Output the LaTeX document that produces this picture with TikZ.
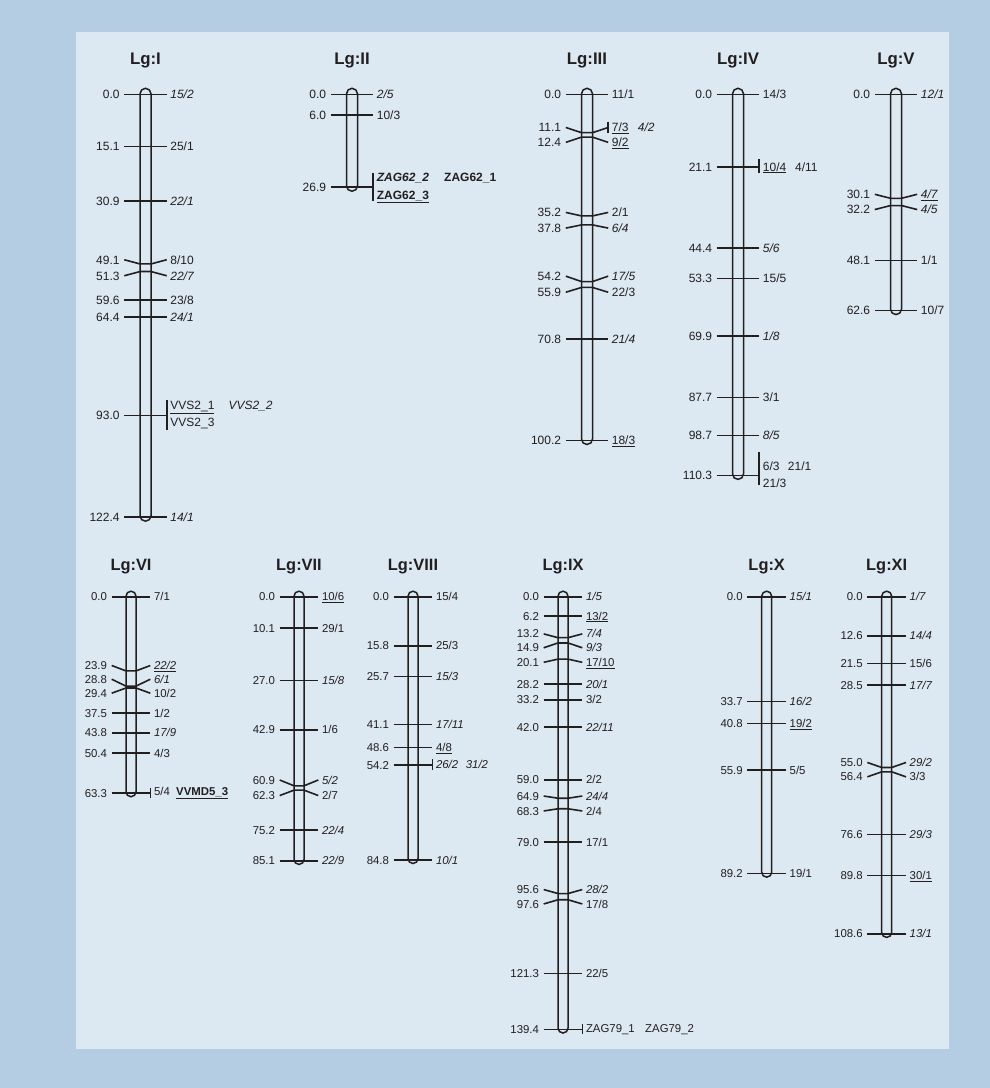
\documentclass[tikz,border=0pt]{standalone}
\usepackage{fontspec}
\setmainfont{Liberation Sans}
\usetikzlibrary{positioning}

\definecolor{outerblue}{RGB}{180,205,227}
\definecolor{panelblue}{RGB}{220,232,242}
\definecolor{ink}{RGB}{35,31,32}

% row settings: scale (pt per cM), bar half width, tick half length, ...
\newcommand\toprow{\def\lgsc{3.455}\def\bhw{5.5}\def\tkl{21.2}\def\lgys{4.3}%
  \def\lgty{-29.8}\def\capt{6}\def\capb{4}%
  \def\lgfs{\fontsize{12}{14}\selectfont}\def\lgtfs{\fontsize{16.8}{19}\selectfont}}
\newcommand\botrow{\def\lgsc{3.105}\def\bhw{5}\def\tkl{19.3}\def\lgys{4.05}%
  \def\lgty{-26.7}\def\capt{5.5}\def\capb{3.5}%
  \def\lgfs{\fontsize{11.4}{13}\selectfont}\def\lgtfs{\fontsize{16.4}{19}\selectfont}}

% bar with title
\newcommand\lgchrom[3]{%
  \node[lgtitle] (#1) at (0,\lgty) {#2};
  \draw[lgbar, rounded corners=\bhw pt] (-\bhw,-\capt) rectangle (\bhw,{#3*\lgsc+\capb});
}
% markers: position / label shift / name
\newcommand\lgmarks[2]{%
  \foreach \lgp/\lgd/\lgm [count=\lgk] in {#2}{%
    \pgfmathsetmacro\yt{\lgp*\lgsc}%
    \pgfmathsetmacro\yl{\yt+\lgd}%
    \draw[tick] (-\tkl,\yl) -- (-\bhw,\yt) -- (\bhw,\yt) -- (\tkl,\yl);
    \node[cmlab] (#1-cm\lgk) at (-\tkl-4.5,\yl) {\lgp};
    \node[mklab] (#1-mk\lgk) at (\tkl+3.5,\yl) {\lgm};
  }%
}

\begin{document}
\begin{tikzpicture}[
  x=1pt, y=-1pt,
  lgbar/.style={draw=ink, line width=1.5pt},
  tick/.style={draw=ink, line width=1.6pt},
  cmlab/.style={anchor=base east, inner sep=0pt, text=ink, font=\lgfs, yshift=-\lgys pt},
  mklab/.style={anchor=base west, inner sep=0pt, text=ink, font=\lgfs, yshift=-\lgys pt},
  lgtitle/.style={anchor=base, inner sep=0pt, text=ink, font=\lgtfs\bfseries}
]
\useasboundingbox (0,0) rectangle (990,1088);
\fill[outerblue] (0,0) rectangle (990,1088);
\fill[panelblue] (76,32) rectangle (949,1049);

%%% top row
\begin{scope}[shift={(145.5,94.3)}]
  \toprow
  \lgchrom{lgI}{Lg:I}{122.4}
  \lgmarks{I}{0.0/0/{\textit{15/2}}, 15.1/0/{25/1}, 30.9/0/{\textit{22/1}},
    49.1/-4.2/{8/10}, 51.3/4.2/{\textit{22/7}}, 59.6/0/{23/8},
    64.4/0/{\textit{24/1}}, 122.4/0/{\textit{14/1}}}
  \draw[tick] (-\tkl,321.3) -- (\tkl,321.3);
  \draw[tick] (\tkl,305.3) -- (\tkl,335.3);
  \node[cmlab] (I-cm93) at (-\tkl-4.5,321.3) {93.0};
  \node[mklab] (vvs21) at (\tkl+3.5,310.7) {\underline{VVS2\_1}};
  \node[mklab] (vvs22) at (82.8,310.7) {\textit{VVS2\_2}};
  \node[mklab] (vvs23) at (\tkl+3.5,327.4) {VVS2\_3};
\end{scope}

\begin{scope}[shift={(352,94.3)}]
  \toprow
  \lgchrom{lgII}{Lg:II}{26.9}
  \lgmarks{II}{0.0/0/{\textit{2/5}}, 6.0/0/{10/3}}
  \draw[tick] (-\tkl,92.9) -- (\tkl,92.9);
  \draw[tick] (\tkl,78.4) -- (\tkl,106.7);
  \node[cmlab] (II-cm27) at (-\tkl-4.5,92.9) {26.9};
  \node[mklab] (zag622) at (\tkl+3.5,83) {\bfseries\itshape ZAG62\_2};
  \node[mklab] (zag621) at (92,83) {\bfseries ZAG62\_1};
  \node[mklab] (zag623) at (\tkl+3.5,100.7) {\bfseries\underline{ZAG62\_3}};
\end{scope}

\begin{scope}[shift={(587,94.3)}]
  \toprow
  \lgchrom{lgIII}{Lg:III}{100.2}
  \lgmarks{III}{0.0/0/{11/1}, 12.4/5.2/{\underline{9/2}}, 35.2/-3.5/{2/1},
    37.8/3.2/{\textit{6/4}}, 54.2/-5.4/{\textit{17/5}}, 55.9/4.8/{22/3},
    70.8/0/{\textit{21/4}}, 100.2/0/{\underline{18/3}}}
  \draw[tick] (-\tkl,33.2) -- (-\bhw,38.35) -- (\bhw,38.35) -- (\tkl,33.2);
  \draw[tick] (\tkl,27.4) -- (\tkl,39);
  \node[cmlab] (III-cm11) at (-\tkl-4.5,33.2) {11.1};
  \node[mklab] (m73) at (\tkl+3.5,33.2) {\underline{7/3}};
  \node[mklab] (m42) at (50.7,33.2) {\textit{4/2}};
\end{scope}

\begin{scope}[shift={(738,94.3)}]
  \toprow
  \lgchrom{lgIV}{Lg:IV}{110.3}
  \lgmarks{IV}{0.0/0/{14/3}, 44.4/0/{\textit{5/6}}, 53.3/0/{15/5},
    69.9/0/{\textit{1/8}}, 87.7/0/{3/1}, 98.7/0/{\textit{8/5}}}
  \draw[tick] (-\tkl,72.9) -- (\tkl,72.9);
  \draw[tick] (\tkl,65) -- (\tkl,79);
  \node[cmlab] (IV-cm21) at (-\tkl-4.5,72.9) {21.1};
  \node[mklab] (m104) at (\tkl+3.5,72.4) {\underline{10/4}};
  \node[mklab] (m411) at (57,72.4) {4/11};
  \draw[tick] (-\tkl,381.1) -- (\tkl,381.1);
  \draw[tick] (\tkl,357.4) -- (\tkl,390.7);
  \node[cmlab] (IV-cm110) at (-\tkl-4.5,381.1) {110.3};
  \node[mklab] (m63) at (\tkl+3.5,371.7) {6/3};
  \node[mklab] (m211) at (49.7,371.7) {21/1};
  \node[mklab] (m213) at (\tkl+3.5,388.4) {21/3};
\end{scope}

\begin{scope}[shift={(896,94.3)}]
  \toprow
  \lgchrom{lgV}{Lg:V}{62.6}
  \lgmarks{V}{0.0/0/{\textit{12/1}}, 30.1/-4/{\underline{\textit{4/7}}},
    32.2/4/{\textit{4/5}}, 48.1/0/{1/1}, 62.6/0/{10/7}}
\end{scope}

%%% bottom row
\begin{scope}[shift={(131,596.7)}]
  \botrow
  \lgchrom{lgVI}{Lg:VI}{63.3}
  \lgmarks{VI}{0.0/0/{7/1}, 23.9/-5.4/{\underline{\textit{22/2}}},
    28.8/-6.9/{\textit{6/1}}, 29.4/5.2/{10/2}, 37.5/0/{1/2},
    43.8/0/{\textit{17/9}}, 50.4/0/{4/3}}
  \draw[tick] (-\tkl,196.5) -- (\tkl,196.5);
  \draw[tick] (\tkl,191) -- (\tkl,201);
  \node[cmlab] (VI-cm63) at (-\tkl-4.5,196.5) {63.3};
  \node[mklab] (m54) at (\tkl+3.5,195) {5/4};
  \node[mklab] (vvmd) at (45,195) {\bfseries\underline{VVMD5\_3}};
\end{scope}

\begin{scope}[shift={(299,596.7)}]
  \botrow
  \lgchrom{lgVII}{Lg:VII}{85.1}
  \lgmarks{VII}{0.0/0/{\underline{10/6}}, 10.1/0/{29/1}, 27.0/0/{\textit{15/8}},
    42.9/0/{1/6}, 60.9/-5.8/{\textit{5/2}}, 62.3/5.4/{2/7},
    75.2/0/{\textit{22/4}}, 85.1/0/{\textit{22/9}}}
\end{scope}

\begin{scope}[shift={(413,596.7)}]
  \botrow
  \lgchrom{lgVIII}{Lg:VIII}{84.8}
  \lgmarks{VIII}{0.0/0/{15/4}, 15.8/0/{25/3}, 25.7/0/{\textit{15/3}},
    41.1/0/{\textit{17/11}}, 48.6/0/{\underline{4/8}}, 84.8/0/{\textit{10/1}}}
  \draw[tick] (-\tkl,168.3) -- (\tkl,168.3);
  \draw[tick] (\tkl,162.6) -- (\tkl,173.3);
  \node[cmlab] (VIII-cm54) at (-\tkl-4.5,168.3) {54.2};
  \node[mklab] (m262) at (\tkl+3.5,167.3) {\textit{26/2}};
  \node[mklab] (m312) at (52.7,167.3) {\textit{31/2}};
\end{scope}

\begin{scope}[shift={(563,596.7)}]
  \botrow
  \lgchrom{lgIX}{Lg:IX}{139.4}
  \lgmarks{IX}{0.0/0/{\textit{1/5}}, 6.2/0/{\underline{13/2}}, 13.2/-3.8/{\textit{7/4}},
    14.9/4.8/{\textit{9/3}}, 20.1/3.2/{\underline{17/10}}, 28.2/0/{\textit{20/1}},
    33.2/0/{3/2}, 42.0/0/{\textit{22/11}}, 59.0/0/{2/2},
    64.9/-2.2/{\textit{24/4}}, 68.3/2.2/{2/4}, 79.0/0/{17/1},
    95.6/-4/{\textit{28/2}}, 97.6/4.2/{17/8}, 121.3/0/{22/5}}
  \draw[tick] (-\tkl,432.8) -- (\tkl,432.8);
  \draw[tick] (\tkl,427.3) -- (\tkl,437.3);
  \node[cmlab] (IX-cm139) at (-\tkl-4.5,432.8) {139.4};
  \node[mklab] (zag791) at (\tkl+3.5,431.6) {ZAG79\_1};
  \node[mklab] (zag792) at (82,431.6) {ZAG79\_2};
\end{scope}

\begin{scope}[shift={(766.7,596.7)}]
  \botrow
  \lgchrom{lgX}{Lg:X}{89.2}
  \lgmarks{X}{0.0/0/{\textit{15/1}}, 33.7/0/{\textit{16/2}}, 40.8/0/{\underline{19/2}},
    55.9/0/{5/5}, 89.2/0/{19/1}}
\end{scope}

\begin{scope}[shift={(886.7,596.7)}]
  \botrow
  \lgchrom{lgXI}{Lg:XI}{108.6}
  \lgmarks{XI}{0.0/0/{\textit{1/7}}, 12.6/0/{\textit{14/4}}, 21.5/0/{15/6},
    28.5/0/{\textit{17/7}}, 55.0/-5/{\textit{29/2}}, 56.4/5/{3/3},
    76.6/0/{\textit{29/3}}, 89.8/0/{\underline{30/1}}, 108.6/0/{\textit{13/1}}}
\end{scope}
\end{tikzpicture}
\end{document}
